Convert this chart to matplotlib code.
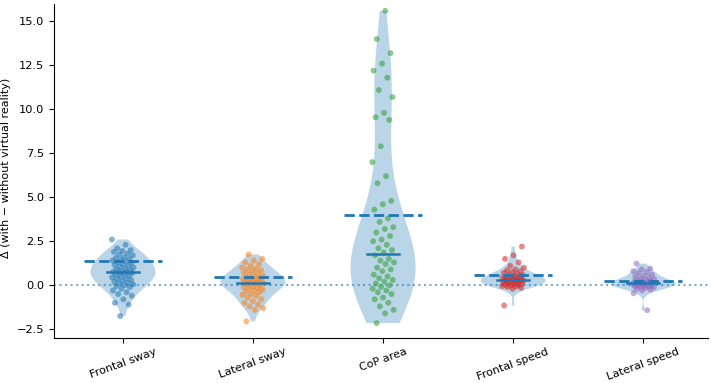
import numpy as np
import matplotlib
matplotlib.use("Agg")
import matplotlib.pyplot as plt

plt.rcParams["font.size"] = 8.2

categories = ["Frontal sway", "Lateral sway", "CoP area", "Frontal speed", "Lateral speed"]

frontal_sway = [2.6, 2.3, 2.1, 2.0, 1.95, 1.9, 1.8, 1.75, 1.7, 1.6, 1.55, 1.5, 1.45, 1.4,
                1.35, 1.3, 1.25, 1.2, 1.15, 1.1, 1.05, 1.0, 0.95, 0.9, 0.85, 0.8, 0.78,
                0.75, 0.72, 0.7, 0.65, 0.6, 0.55, 0.5, 0.45, 0.4, 0.35, 0.3, 0.25, 0.2,
                0.15, 0.1, 0.05, 0.0, -0.05, -0.1, -0.2, -0.3, -0.4, -0.5, -0.6, -0.8,
                -1.0, -1.1, -1.75]
lateral_sway = [1.75, 1.5, 1.4, 1.3, 1.2, 1.1, 1.0, 0.95, 0.9, 0.85, 0.8, 0.7, 0.65, 0.6,
                0.55, 0.5, 0.45, 0.4, 0.38, 0.35, 0.3, 0.28, 0.25, 0.2, 0.18, 0.15, 0.12,
                0.1, 0.08, 0.05, 0.0, -0.05, -0.1, -0.15, -0.2, -0.25, -0.3, -0.35, -0.4,
                -0.5, -0.55, -0.6, -0.7, -0.8, -0.9, -1.0, -1.1, -1.2, -1.3, -1.4, -2.05]
cop_area = [15.6, 14.0, 13.2, 12.6, 12.2, 11.8, 11.1, 10.7, 9.8, 9.55, 9.4, 7.9, 7.0, 6.2,
            5.8, 4.8, 4.6, 4.3, 3.8, 3.6, 3.3, 3.2, 3.0, 2.8, 2.6, 2.5, 2.3, 2.1, 2.0, 1.85,
            1.7, 1.5, 1.4, 1.3, 1.2, 1.0, 0.9, 0.8, 0.6, 0.5, 0.4, 0.3, 0.2, 0.1, 0.0,
            -0.1, -0.2, -0.3, -0.4, -0.5, -0.7, -0.8, -1.0, -1.2, -1.4, -1.6, -2.15]
frontal_speed = [2.2, 1.7, 1.5, 1.3, 1.1, 1.0, 0.9, 0.85, 0.8, 0.75, 0.7, 0.65, 0.6, 0.58,
                 0.55, 0.5, 0.48, 0.45, 0.42, 0.4, 0.38, 0.35, 0.33, 0.3, 0.3, 0.28, 0.27,
                 0.25, 0.22, 0.2, 0.18, 0.15, 0.12, 0.1, 0.08, 0.05, 0.03, 0.0, -0.02,
                 -0.05, -0.08, -0.1, -0.15, -0.2, -1.15]
lateral_speed = [1.23, 0.95, 0.9, 0.8, 0.75, 0.7, 0.6, 0.55, 0.5, 0.45, 0.4, 0.35, 0.3,
                 0.28, 0.25, 0.22, 0.2, 0.18, 0.15, 0.13, 0.12, 0.1, 0.08, 0.06, 0.05,
                 0.03, 0.02, 0.0, -0.02, -0.05, -0.08, -0.1, -0.12, -0.15, -0.2, -0.25,
                 -0.3, -0.45, -1.42]

medians = [0.75, 0.1, 1.76, 0.3, 0.13]
dashed_refs = [1.36, 0.44, 3.98, 0.56, 0.23]

series = [frontal_sway, lateral_sway, cop_area, frontal_speed, lateral_speed]
point_colors = ["#1f77b4", "#ff7f0e", "#2ca02c", "#d62728", "#9467bd"]

fig = plt.figure(figsize=(7.11, 3.83), dpi=100)
ax = fig.add_axes([0.076, 0.1175, 0.92, 0.8725])

pos = np.arange(len(categories))
parts = ax.violinplot(series, positions=pos, widths=0.5, showextrema=False)
for b in parts["bodies"]:
    b.set_facecolor("#1f77b4")
    b.set_alpha(0.3)
    b.set_edgecolor("none")

for i, vals in enumerate(series):
    n = len(vals)
    jit = (((np.arange(n) * 0.6180339887 + 0.3 * i) % 1.0) - 0.5) * 0.17
    ax.scatter(pos[i] + jit, vals, s=18, color=point_colors[i], alpha=0.55,
               edgecolors="none", zorder=3)
    ax.plot([pos[i] - 0.125, pos[i] + 0.125], [medians[i]] * 2, color="#1f77b4",
            lw=1.8, zorder=4)
    ax.plot([pos[i] - 0.3, pos[i] + 0.3], [dashed_refs[i]] * 2, color="#1f77b4",
            lw=2, ls="--", zorder=4)

ax.axhline(0, color="#1f77b4", ls=":", lw=1.5, alpha=0.6, zorder=2)

ax.set_xticks(pos)
ax.set_xticklabels(categories, rotation=20, ha="center", fontsize=8)
ax.tick_params(axis="x", pad=2.5)
ax.set_xlim(-0.53, 4.5)
ax.set_ylim(-3.0, 16.0)
ax.set_yticks([-2.5, 0, 2.5, 5, 7.5, 10, 12.5, 15])
ax.set_ylabel("Δ (with − without virtual reality)", fontsize=8)
ax.yaxis.set_label_coords(-0.066, 0.51)
ax.spines["top"].set_visible(False)
ax.spines["right"].set_visible(False)

fig.savefig("out.png", dpi=100)
